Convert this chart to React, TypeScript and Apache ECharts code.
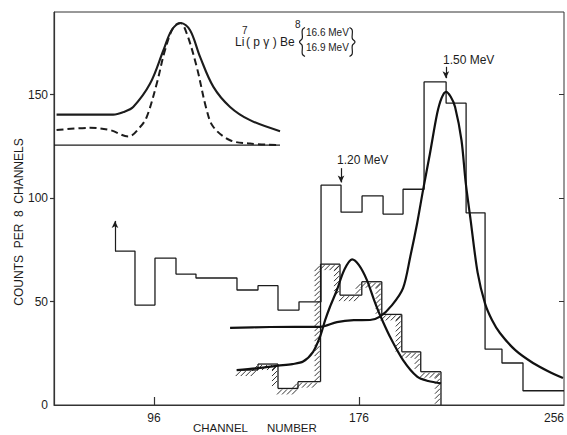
import React, { useEffect, useRef } from 'react';
import * as echarts from 'echarts';

// open histogram: bin edges (channel) and counts per bin
const binEdges = [80.8, 88.6, 96.4, 104.6, 112.4, 120.6, 128.4, 136.6, 144.4, 152.6, 161.2, 169.0, 177.2, 185.4, 193.2, 201.4, 210.0, 217.8, 225.2, 231.8, 240.0, 248.0, 256.0];
const binCounts = [74.4, 48.3, 71.0, 63.3, 61.4, 61.4, 55.6, 57.7, 45.9, 49.9, 106.3, 93.2, 101.1, 92.3, 104.3, 156.2, 145.9, 92.9, 27.0, 20.3, 6.9, 6.9];

// hatched histogram
const hatchEdges = [128.3, 136.6, 144.4, 152.2, 161.0, 168.6, 177.1, 184.9, 192.7, 200.1, 208.0];
const hatchCounts = [16.9, 19.8, 8.0, 11.3, 68.1, 53.1, 59.6, 43.8, 25.7, 16.1];

// fitted line shape, 1.20 MeV
const fit120 = [
  [128.3, 16.9], [136.6, 17.8], [144.4, 19.0], [150.0, 19.8], [154.2, 21.0], [158.1, 25.7], [160.8, 33.0],
  [162.8, 41.0], [164.7, 47.5], [167.4, 55.6], [170.2, 65.2], [173.3, 70.4], [176.0, 67.6], [179.1, 60.4],
  [181.9, 50.7], [184.2, 43.5], [188.1, 33.0], [193.2, 21.7], [198.7, 13.7], [203.0, 11.6], [208.0, 10.5],
];

// fitted line shape, 1.50 MeV
const fit150 = [
  [125.7, 37.3], [141.3, 37.7], [160.8, 37.8], [167.4, 40.1], [174.0, 41.0], [180.3, 41.1], [184.2, 42.7],
  [188.9, 48.3], [193.2, 56.5], [196.0, 71.6], [198.7, 87.9], [201.0, 103.9], [203.7, 121.6], [206.5, 140.9],
  [208.3, 148.6], [210.0, 151.4], [211.8, 149.0], [213.5, 144.1], [216.0, 128.0], [217.6, 108.0], [219.5, 90.0],
  [222.3, 64.0], [225.2, 49.0], [227.9, 41.1], [231.0, 34.8], [237.0, 26.5], [243.9, 20.3], [250.0, 16.2], [255.6, 13.0],
];

// inset: resolution curves
const insetSolid = [
  [58.0, 140.4], [80.1, 140.4], [84.0, 141.6], [87.9, 144.1], [94.5, 155.4], [99.7, 171.5], [102.9, 181.2],
  [106.5, 184.7], [110.1, 181.2], [114.0, 168.3], [119.2, 153.8], [125.7, 144.1], [133.5, 137.7], [145.2, 132.4],
];
const insetDashed = [
  [58.0, 132.9], [71.0, 134.0], [78.9, 132.9], [86.0, 129.8], [90.6, 134.4], [93.2, 139.3], [97.1, 155.4],
  [100.3, 171.5], [103.6, 182.7], [106.3, 184.7], [108.8, 179.6], [112.7, 163.4], [116.6, 142.5], [119.2, 134.4],
  [125.7, 128.0], [133.5, 126.4], [145.2, 125.6],
];
const insetBase = [[57, 125.6], [145.2, 125.6]];

const xTickLabels = [96, 176, 256];
const yTickLabels = [0, 50, 100, 150];

export default function App() {
  const ref = useRef<HTMLDivElement>(null);
  useEffect(() => {
    document.body.style.margin = '0';
    const chart = echarts.init(ref.current!, null, { renderer: 'svg' });
    const ink = '#1c1c1c';
    const font = 'Liberation Sans';

    const stepData = binEdges.map((e, i) => [e, i < binCounts.length ? binCounts[i] : binCounts[binCounts.length - 1]]);
    const hatchData: number[][] = hatchCounts.map((v, i) => [hatchEdges[i], hatchEdges[i + 1], v, i === 0 ? v : hatchCounts[i - 1]]);
    const last = hatchEdges[hatchEdges.length - 1];
    hatchData.push([last, last, 0, hatchCounts[hatchCounts.length - 1]]);

    const lineStyle = { stroke: ink, lineWidth: 1.3, fill: 'none' };
    const hatchStyle = { stroke: ink, lineWidth: 0.9, fill: 'none' };

    const txt = (text: string, x: number, y: number, size: number, extra: any = {}) => ({
      type: 'text', x, y, silent: true,
      style: { text, fill: ink, fontSize: size, fontFamily: font, textAlign: 'left', textVerticalAlign: 'middle', ...extra },
    });
    const brace = (pts: number[][]) => ({
      type: 'polyline', silent: true,
      shape: { points: pts, smooth: 0.4 },
      style: { stroke: ink, lineWidth: 1.2, fill: 'none' },
    });

    chart.setOption({
      animation: false,
      backgroundColor: '#ffffff',
      grid: { left: 54, right: 3, top: 12, bottom: 30, show: true, borderColor: '#333', borderWidth: 1 },
      xAxis: {
        type: 'value', min: 57, max: 256,
        axisLine: { show: true, lineStyle: { color: '#333', width: 1.2 } },
        axisTick: { show: true, inside: true, length: 8, customValues: [96, 176], lineStyle: { color: '#333', width: 1.2 } },
        axisLabel: { customValues: xTickLabels, color: ink, fontSize: 12, fontFamily: font, margin: 7, alignMaxLabel: 'right' },
        splitLine: { show: false },
      },
      yAxis: [
        {
          type: 'value', min: 0, max: 190,
          axisLine: { show: true, lineStyle: { color: '#333', width: 1.2 } },
          axisTick: { show: true, inside: false, length: 4, customValues: [50, 100, 150], lineStyle: { color: '#333', width: 1.2 } },
          axisLabel: { customValues: yTickLabels, color: ink, fontSize: 12, fontFamily: font, margin: 6 },
          splitLine: { show: false },
        },
        {
          type: 'value', min: 0, max: 190, position: 'right',
          axisLine: { show: false },
          axisTick: { show: true, inside: true, length: 5, customValues: [50, 100, 150], lineStyle: { color: '#333', width: 1 } },
          axisLabel: { show: false },
          splitLine: { show: false },
        },
      ],
      series: [
        { type: 'line', data: insetBase, showSymbol: false, symbol: 'none', lineStyle: { color: ink, width: 1.3 }, silent: true },
        { type: 'line', data: insetSolid, smooth: 0.35, showSymbol: false, symbol: 'none', lineStyle: { color: ink, width: 2.1 }, silent: true },
        { type: 'line', data: insetDashed, smooth: 0.35, showSymbol: false, symbol: 'none', lineStyle: { color: ink, width: 2, type: [7, 4] }, silent: true },
        {
          type: 'line', data: stepData, step: 'end', showSymbol: false, symbol: 'none',
          lineStyle: { color: ink, width: 1.3 }, silent: true,
          markLine: {
            silent: true, symbol: ['none', 'arrow'], symbolSize: [5, 7],
            label: { show: false },
            lineStyle: { color: ink, width: 1.2, type: 'solid' },
            data: [
              [{ coord: [80.8, 74.4] }, { coord: [80.8, 89.0] }],
              [{ coord: [169.0, 114.5] }, { coord: [169.0, 107.6] }],
              [{ coord: [209.9, 163.5] }, { coord: [209.9, 158.0] }],
            ],
          },
        },
        {
          type: 'custom', data: hatchData, silent: true,
          encode: { x: [0, 1], y: [2, 3] },
          renderItem: (params: any, api: any) => {
            const x0 = api.value(0), x1 = api.value(1), v = api.value(2), pv = api.value(3);
            const a = api.coord([x0, v]);
            const b = api.coord([x1, v]);
            const c = api.coord([x0, pv]);
            const children: any[] = [];
            if (Math.abs(c[1] - a[1]) > 0.5) {
              children.push({ type: 'line', shape: { x1: c[0], y1: c[1], x2: a[0], y2: a[1] }, style: lineStyle });
              const yt = Math.min(a[1], c[1]), yb = Math.max(a[1], c[1]);
              for (let y = yt + 4; y <= yb - 1; y += 5) {
                children.push({ type: 'line', shape: { x1: a[0] - 6, y1: y + 3, x2: a[0] - 1, y2: y - 2 }, style: hatchStyle });
              }
            }
            if (b[0] - a[0] > 0.5) {
              children.push({ type: 'line', shape: { x1: a[0], y1: a[1], x2: b[0], y2: b[1] }, style: lineStyle });
              for (let x = a[0] + 4; x <= b[0]; x += 5) {
                children.push({ type: 'line', shape: { x1: x - 5, y1: a[1] + 6, x2: x, y2: a[1] + 1 }, style: hatchStyle });
              }
            }
            return { type: 'group', children };
          },
        },
        { type: 'line', data: fit120, smooth: 0.3, showSymbol: false, symbol: 'none', lineStyle: { color: '#111', width: 2.2 }, silent: true },
        { type: 'line', data: fit150, smooth: 0.3, showSymbol: false, symbol: 'none', lineStyle: { color: '#111', width: 2.2 }, silent: true },
      ],
      graphic: [
        txt('Li', 235, 42, 12),
        txt('7', 242, 30, 10),
        txt('( p γ )', 246, 42, 12),
        txt('Be', 280, 42, 12),
        txt('8', 295, 24, 10),
        brace([[305, 27.5], [302.3, 30], [302.2, 38.5], [299.5, 42], [302.2, 45.5], [302.3, 54], [305, 56.5]]),
        txt('16.6 MeV', 306, 32, 10),
        txt('16.9 MeV', 306, 47, 10),
        brace([[349.5, 27.5], [352.2, 30], [352.3, 38.5], [355, 42], [352.3, 45.5], [352.2, 54], [349.5, 56.5]]),
        txt('1.50 MeV', 443, 60, 12),
        txt('1.20 MeV', 337, 160, 12),
        txt('CHANNEL', 193, 428, 11.5),
        txt('NUMBER', 267, 428, 11.5),
        {
          type: 'text', x: 19, y: 222, rotation: Math.PI / 2, silent: true,
          style: { text: 'COUNTS  PER  8  CHANNELS', fill: ink, fontSize: 12, fontFamily: font, textAlign: 'center', textVerticalAlign: 'middle' },
        },
      ],
    });
    return () => chart.dispose();
  }, []);
  return <div ref={ref} style={{ position: 'fixed', left: 0, top: 0, width: 567, height: 435 }} />;
}
